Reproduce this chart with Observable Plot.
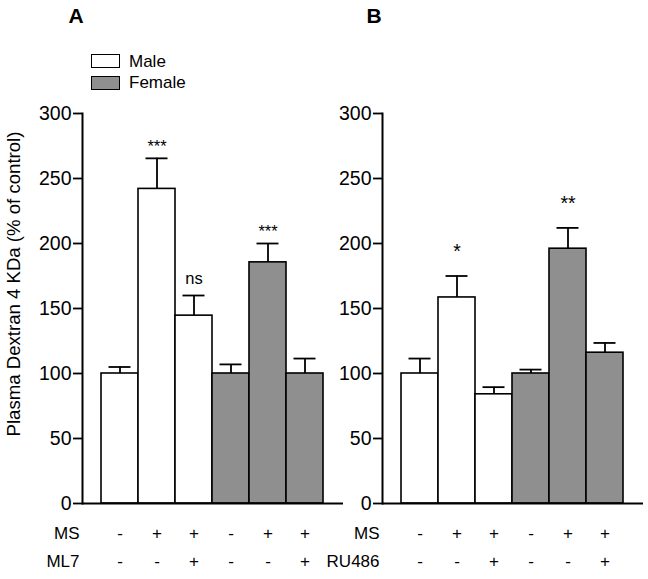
<!DOCTYPE html>
<html><head><meta charset="utf-8">
<script src="https://cdn.jsdelivr.net/npm/d3@7"></script>
<script src="https://cdn.jsdelivr.net/npm/@observablehq/plot@0.6"></script>
<style>
body{margin:0;background:#fff;font-family:"Liberation Sans",Arial,sans-serif;}
#wrap{position:relative;width:648px;height:579px;overflow:hidden;background:#fff;}
.panel{position:absolute;top:0;}
.letter{position:absolute;top:16px;font-weight:bold;font-size:21px;transform:translate(-50%,-50%);}
.sw{position:absolute;left:91px;width:27px;height:12px;border:1.6px solid #000;}
.lt{position:absolute;left:129px;font-size:17px;transform:translateY(-50%);}
#ylab{position:absolute;left:14px;top:284px;font-size:18.6px;white-space:nowrap;transform:translate(-50%,-50%) rotate(-90deg);}
</style></head><body>
<div id="wrap"></div>
<script>
const groups = ["g1","g2","g3","g4","g5","g6"];
const sexes = ["Male","Male","Male","Female","Female","Female"];
const msRow = ["-","+","+","-","+","+"];
const drugRow = ["-","-","+","-","-","+"];
const valuesA = [100,242,144.5,100,185.5,100];
const errA = [105,265.5,160,107,200,111.5];
const sigA = ["","***","ns","","***",""];
const valuesB = [100,158.5,84,100,196,116];
const errB = [111.5,175,89.5,103,212,123.5];
const sigB = ["","*","","","**",""];
const yTicks = [0,50,100,150,200,250,300];
const yLabel = "Plasma Dextran 4 KDa (% of control)";
const legendItems = ["Male","Female"];
const legendColors = ["#ffffff","#8f8f8f"];

function panel(values, errs, sigs, drugName, starSize, starDy){
  const data = groups.map((g,i)=>({g, sex:sexes[i], v:values[i], hi:errs[i], sig:sigs[i], ms:msRow[i], drug:drugRow[i]}));
  return Plot.plot({
    width:348, height:579, marginLeft:82, marginRight:5, marginTop:113, marginBottom:76,
    style:{background:"transparent", fontFamily:"Liberation Sans, Arial, sans-serif", overflow:"visible", color:"#000"},
    x:{type:"band", domain:groups, range:[101,323], padding:0, axis:null},
    y:{domain:[0,300], axis:null},
    color:{domain:legendItems, range:legendColors},
    marks:[
      Plot.ruleX(data,{x:"g", y1:"v", y2:"hi", strokeWidth:1.8}),
      Plot.tickY(data,{x:"g", y:"hi", insetLeft:7.5, insetRight:7.5, strokeWidth:1.8}),
      Plot.barY(data,{x:"g", y:"v", fill:"sex", stroke:"black", strokeWidth:1.6}),
      Plot.frame({anchor:"left", strokeWidth:2}),
      Plot.ruleY([0],{strokeWidth:2}),
      Plot.axisY({ticks:yTicks, tickSize:9, tickPadding:2, fontSize:19.5, strokeWidth:1.8, label:null}),
      Plot.text(data.filter(d=>d.sig.includes("*")),{x:"g", y:"hi", text:"sig", dy:starDy, fontSize:starSize}),
      Plot.text(data.filter(d=>d.sig==="ns"),{x:"g", y:"hi", text:"sig", dy:-17, fontSize:16.5}),
      Plot.text(data,{x:"g", text:"ms", frameAnchor:"bottom", dy:35, fontSize:17}),
      Plot.text(data,{x:"g", text:"drug", frameAnchor:"bottom", dy:63, fontSize:17}),
      Plot.text(["MS"],{text:d=>d, frameAnchor:"bottom-left", textAnchor:"end", dx:-3, dy:35, fontSize:17}),
      Plot.text([drugName],{text:d=>d, frameAnchor:"bottom-left", textAnchor:"end", dx:-3, dy:63, fontSize:17})
    ]
  });
}

const wrap = document.getElementById("wrap");
const a = panel(valuesA, errA, sigA, "ML7", 16.5, -12);
a.classList.add("panel"); a.style.left = "0px";
const b = panel(valuesB, errB, sigB, "RU486", 19.5, -24);
b.classList.add("panel"); b.style.left = "300px";
wrap.appendChild(a); wrap.appendChild(b);

function div(cls, txt, css){ const d=document.createElement("div"); d.className=cls; if(txt) d.textContent=txt; Object.assign(d.style, css||{}); wrap.appendChild(d); return d; }
div("letter","A",{left:"76px"});
div("letter","B",{left:"374px"});
legendItems.forEach((name,i)=>{
  div("sw","",{top:(54+i*22)+"px", background:legendColors[i]});
  div("lt",name,{top:(62+i*21)+"px"});
});
const yl = div("", yLabel); yl.id = "ylab";
</script>
</body></html>
